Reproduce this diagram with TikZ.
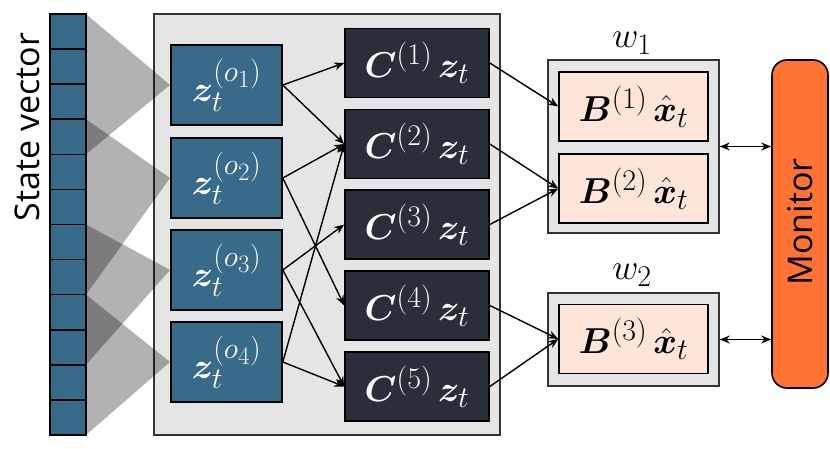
\RequirePackage{fix-cm}
\documentclass[tikz,border=0pt]{standalone}
\usepackage{amsmath}
\usepackage{bm}
\usepackage{fontspec}
\newfontfamily\osans{Open Sans}
\usetikzlibrary{arrows.meta}
\DeclareMathSizes{36}{36}{30}{25}
\definecolor{zblue}{HTML}{386A8A}
\definecolor{cdark}{HTML}{2A2D3A}
\definecolor{bpeach}{HTML}{FDE5DA}
\definecolor{panelgray}{HTML}{E5E5E5}
\definecolor{monorange}{HTML}{FF7335}
\tikzset{
  mathfont/.style={font=\fontsize{36}{43}\selectfont},
  zbox/.style={draw=black, line width=1.6pt, fill=zblue, text=white, minimum width=111pt, minimum height=80pt, inner sep=0pt, mathfont},
  cbox/.style={draw=black, line width=1.6pt, fill=cdark, text=white, minimum width=144pt, minimum height=69pt, inner sep=0pt, mathfont},
  bbox/.style={draw=black, line width=1.6pt, fill=bpeach, minimum width=149pt, minimum height=69pt, inner sep=0pt, mathfont},
  wbox/.style={draw=black!80, line width=1.6pt, fill=panelgray, inner sep=0pt},
  cell/.style={draw=black, line width=1.6pt, fill=zblue, minimum width=36pt, minimum height=35.08pt, inner sep=0pt},
  fan/.style={fill=black, opacity=0.3},
  conn/.style={line width=1.4pt, -{Stealth[length=10pt,width=8pt]}},
  dconn/.style={line width=1.4pt, {Stealth[length=10pt,width=8pt]}-{Stealth[length=10pt,width=8pt]}},
}
\begin{document}
\begin{tikzpicture}[x=1pt,y=-1pt]
\useasboundingbox (0,0) rectangle (830,449);
% panel
\node[wbox, minimum width=346pt, minimum height=421pt] (panel) at (327,224.5) {};
% fans
\fill[fan] (86,14) -- (86,154.3) -- (170,85) -- cycle;
\fill[fan] (86,119.2) -- (86,294.7) -- (170,178) -- cycle;
\fill[fan] (86,224.5) -- (86,364.8) -- (170,270) -- cycle;
\fill[fan] (86,294.7) -- (86,435) -- (170,362) -- cycle;
% state vector cells
\foreach \i in {0,...,11} {
  \node[cell] (s\i) at (68,{14+35.08*\i+17.54}) {};
}
\node[rotate=90, font=\osans\fontsize{34}{40}\selectfont] (sv) at (27,127) {State vector};
% z nodes
\node[zbox] (z1) at (226.5,85) {$\bm{z}_t^{(o_1)}$};
\node[zbox] (z2) at (226.5,178) {$\bm{z}_t^{(o_2)}$};
\node[zbox] (z3) at (226.5,270) {$\bm{z}_t^{(o_3)}$};
\node[zbox] (z4) at (226.5,362) {$\bm{z}_t^{(o_4)}$};
% C nodes
\node[cbox] (c1) at (417,63) {$\bm{C}^{(1)}\,\bm{z}_t$};
\node[cbox] (c2) at (417,144) {$\bm{C}^{(2)}\,\bm{z}_t$};
\node[cbox] (c3) at (417,224.5) {$\bm{C}^{(3)}\,\bm{z}_t$};
\node[cbox] (c4) at (417,305.5) {$\bm{C}^{(4)}\,\bm{z}_t$};
\node[cbox] (c5) at (417,386.5) {$\bm{C}^{(5)}\,\bm{z}_t$};
% w boxes
\node[wbox, minimum width=171pt, minimum height=173pt] (w1) at (633.5,146.5) {};
\node[wbox, minimum width=171pt, minimum height=93pt] (w2) at (633.5,339.5) {};
\node[mathfont] (w1l) at (632,43) {$w_1$};
\node[mathfont] (w2l) at (632,275) {$w_2$};
\node[bbox] (b1) at (633.5,106.5) {$\bm{B}^{(1)}\,\hat{\bm{x}}_t$};
\node[bbox] (b2) at (633.5,188.5) {$\bm{B}^{(2)}\,\hat{\bm{x}}_t$};
\node[bbox] (b3) at (633.5,339) {$\bm{B}^{(3)}\,\hat{\bm{x}}_t$};
% monitor
\node[draw=black, line width=1.6pt, fill=monorange, rounded corners=15pt, minimum width=56pt, minimum height=328pt, inner sep=0pt] (mon) at (800,224) {};
\node[rotate=90, font=\osans\fontsize{34}{40}\selectfont] (monl) at (800,222) {Monitor};
% connectors z -> C
\draw[conn] (z1.east) -- (c1.west);
\draw[conn] (z1.east) -- (c2.west);
\draw[conn] (z2.east) -- (c2.west);
\draw[conn] (z2.east) -- (c4.west);
\draw[conn] (z3.east) -- (c3.west);
\draw[conn] (z3.east) -- (c5.west);
\draw[conn] (z4.east) -- (c2.west);
\draw[conn] (z4.east) -- (c5.west);
% C -> B
\draw[conn] (c1.east) -- (b1.west);
\draw[conn] (c2.east) -- (b2.west);
\draw[conn] (c3.east) -- (b2.west);
\draw[conn] (c4.east) -- (b3.west);
\draw[conn] (c5.east) -- (b3.west);
% w <-> monitor
\draw[dconn] (w1.east) -- (w1.east -| mon.west);
\draw[dconn] (w2.east) -- (w2.east -| mon.west);
\end{tikzpicture}
\end{document}
